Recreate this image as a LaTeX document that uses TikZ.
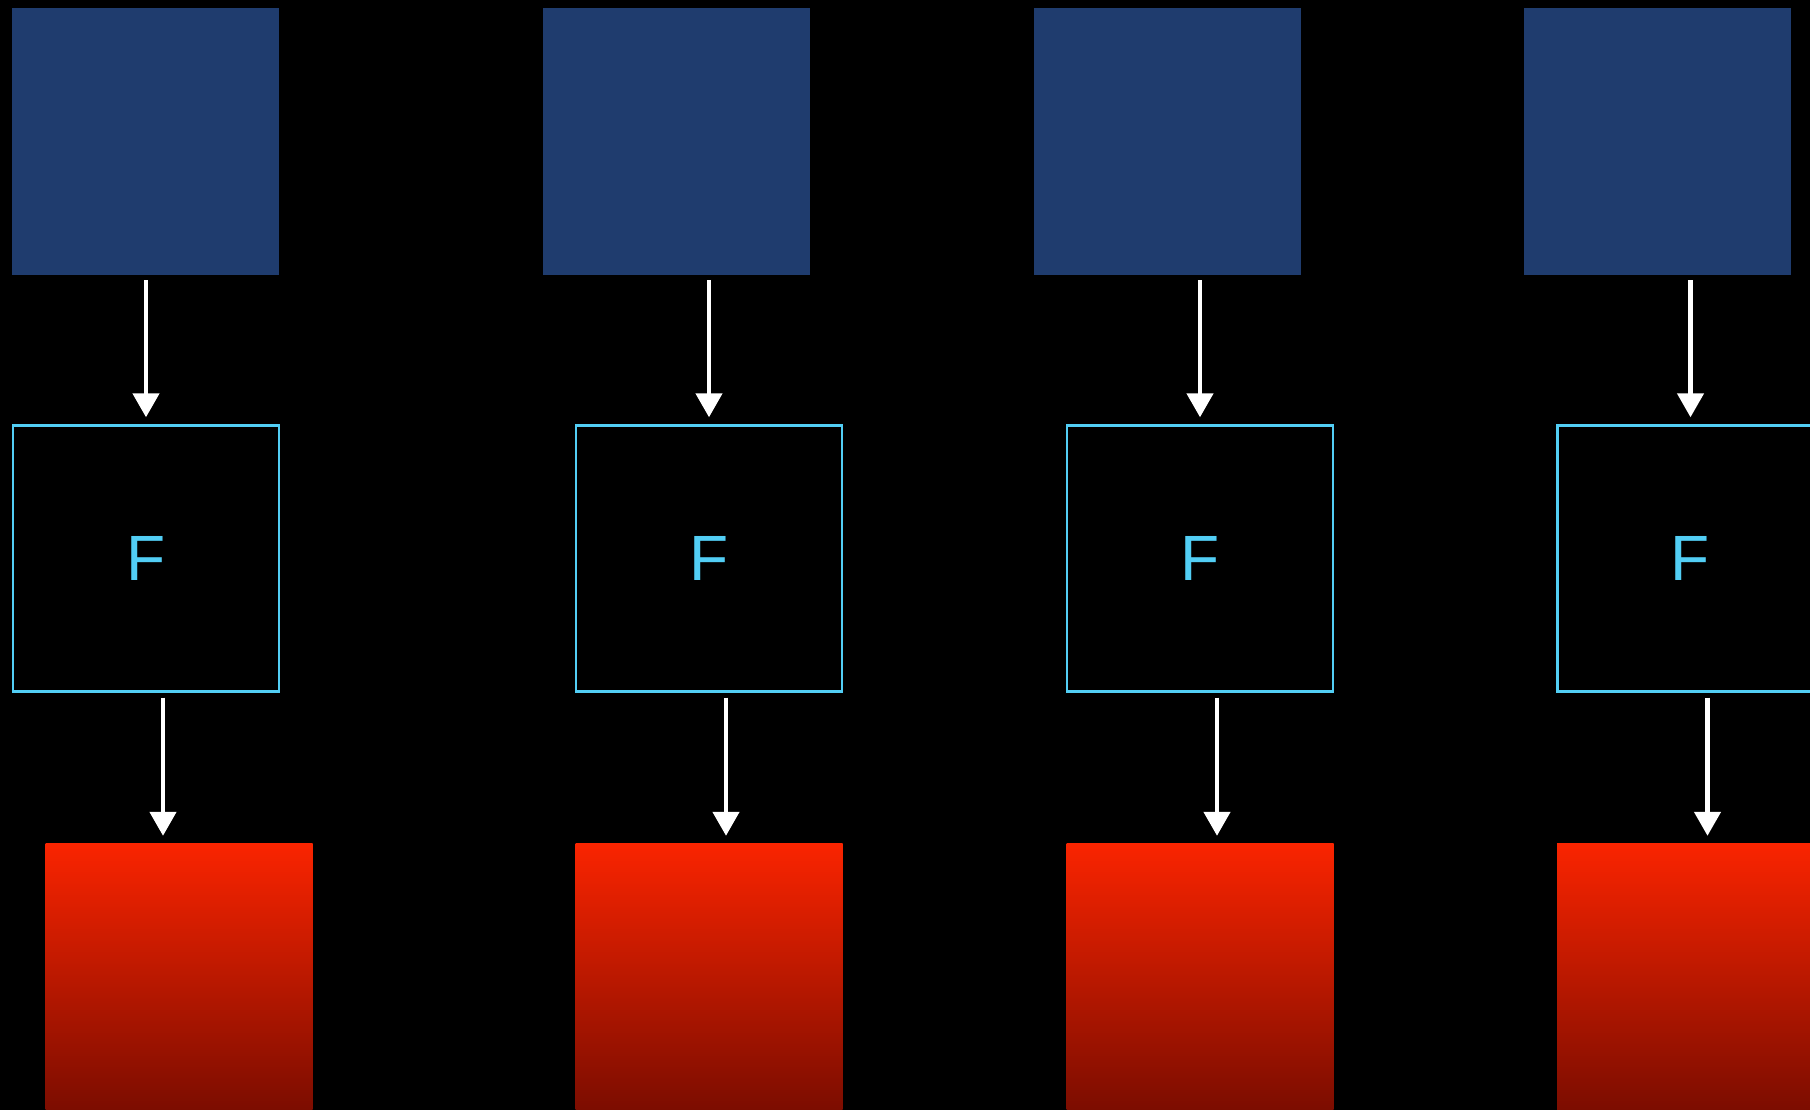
\documentclass[tikz,border=0pt]{standalone}
\usepackage{fontspec}
\setsansfont{Liberation Sans}
\usetikzlibrary{arrows.meta}
\definecolor{inblue}{RGB}{31,60,110}
\definecolor{fcyan}{RGB}{82,206,245}
\definecolor{redtop}{RGB}{250,36,0}
\definecolor{redbot}{RGB}{120,12,0}
\tikzset{
  inbox/.style={rectangle, fill=inblue, draw=none, minimum size=267pt, inner sep=0pt},
  fbox/.style={rectangle, draw=fcyan, line width=2.4pt, minimum size=266pt, inner sep=0pt,
    text=fcyan, font=\sffamily\fontsize{64}{64}\selectfont},
  outbox/.style={rectangle, draw=none, top color=redtop, bottom color=redbot, minimum width=267pt, minimum height=275pt, inner sep=0pt},
  flow/.style={draw=white, line width=4.5pt, -{Triangle[width=26pt,length=24pt]}}
}
\begin{document}
\begin{tikzpicture}[x=1pt,y=1pt]
\useasboundingbox (0,0) rectangle (1810,-1109);
\fill[black] (-10,10) rectangle (1820,-1120);
% inputs
\node[inbox] (b1) at (145.5,-141.5) {};
\node[inbox] (b2) at (676,-141.5) {};
\node[inbox] (b3) at (1167,-141.5) {};
\node[inbox] (b4) at (1657.5,-141.5) {};
% functions
\node[fbox] (c1) at (146,-558.5) {F};
\node[fbox] (c2) at (709,-558.5) {F};
\node[fbox] (c3) at (1200,-558.5) {F};
\node[fbox] (c4) at (1690.5,-558.5) {F};
% outputs
\node[outbox] (r1) at (179,-980.5) {};
\node[outbox] (r2) at (709,-980.5) {};
\node[outbox] (r3) at (1200,-980.5) {};
\node[outbox] (r4) at (1690.5,-980.5) {};
% connectors
\foreach \i in {1,2,3,4}{
  \draw[flow, shorten <=5pt, shorten >=7pt] (c\i.north |- b\i.south) -- (c\i.north);
  \draw[flow, shorten <=5pt, shorten >=7pt] ([xshift=17pt]c\i.south) -- ([xshift=17pt]c\i.south |- r\i.north);
}
\end{tikzpicture}
\end{document}
